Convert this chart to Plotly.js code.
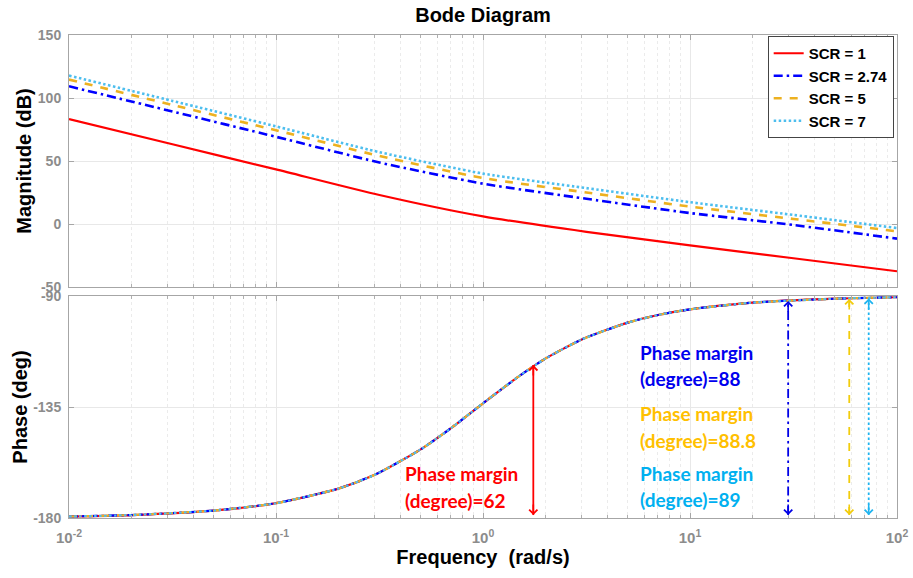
<!DOCTYPE html>
<html>
<head>
<meta charset="utf-8">
<script src="https://cdn.plot.ly/plotly-3.0.1.min.js"></script>
<style>
  html, body { margin: 0; padding: 0; background: #ffffff; }
  #chart { width: 913px; height: 578px; }
</style>
</head>
<body>
<div id="chart"></div>
<script>
// Open-loop magnitude (dB) for each short-circuit ratio
const magFreq = [0.01, 0.0316, 0.1, 0.316, 1, 3.16, 10, 31.6, 100];
const magScr1 = [83.3, 63.3, 43.3, 23.0, 6.0, -6.2, -17.0, -27.2, -37.5];
const magScr274 = [109.3, 89.3, 69.2, 48.8, 32.0, 20.0, 8.7, -0.8, -11.6];
const magScr5 = [114.6, 94.5, 74.4, 54.0, 36.5, 25.0, 13.8, 4.0, -5.8];
const magScr7 = [117.8, 97.7, 77.5, 57.0, 40.0, 28.5, 17.3, 7.2, -3.2];

// Phase (deg): identical for every SCR, since SCR only scales the gain
const phaseFreq = [0.01, 0.02, 0.05, 0.1, 0.2, 0.3, 0.5, 0.7, 1, 1.5, 2, 3, 5, 7, 10, 20, 50, 100];
const phaseDeg = [-179.4, -178.8, -177.0, -174.0, -168.1, -162.5, -152.2, -143.6, -133.5,
                  -122.4, -115.4, -107.6, -100.8, -97.7, -95.4, -92.7, -91.1, -90.5];

const seriesNames = ['SCR = 1', 'SCR = 2.74', 'SCR = 5', 'SCR = 7'];
const marginDeg = [62, 88, 88.8, 89];          // phase margin of each case
const crossFreq = [1.75, 29.8, 58.8, 73];      // gain crossover frequency (rad/s)

const xTickVals = [0.01, 0.1, 1, 10, 100];
const xTickText = ['10<sup>-2</sup>', '10<sup>-1</sup>', '10<sup>0</sup>', '10<sup>1</sup>', '10<sup>2</sup>'];
const magTicks = [-50, 0, 50, 100, 150];
const phaseTicks = [-180, -135, -90];

// minor log ticks at 2..9 within each decade
const xMinorVals = [];
for (let d = -2; d < 2; d++) {
  for (let k = 2; k <= 9; k++) xMinorVals.push(k * Math.pow(10, d));
}

const lineColors = ['#ff0000', '#0000ff', '#edb120', '#4dbeee'];
const lineDash = ['solid', '9px,4px,2.5px,4px', '8px,8px', '2.5px,2.5px'];
const arrowColors = ['#ff0000', '#0000e6', '#f2cc0c', '#1eb4f0'];
const textColors = ['#ff0000', '#0000ee', '#ffc000', '#00b0f0'];
const magSeries = [magScr1, magScr274, magScr5, magScr7];

const traces = [];
magSeries.forEach((m, i) => {
  traces.push({
    x: magFreq, y: m, xaxis: 'x2', yaxis: 'y2', type: 'scatter', mode: 'lines',
    name: seriesNames[i],
    line: { color: lineColors[i], width: i === 0 ? 2.2 : 2.6, dash: lineDash[i], shape: 'spline', smoothing: 0.6 }
  });
});
seriesNames.forEach((n, i) => {
  traces.push({
    x: phaseFreq, y: phaseDeg, xaxis: 'x', yaxis: 'y', type: 'scatter', mode: 'lines',
    name: n, showlegend: false,
    line: { color: lineColors[i], width: 2.2, dash: lineDash[i], shape: 'spline', smoothing: 0.6 }
  });
});

// Phase-margin markers: vertical line from -180 deg up to the phase at crossover
const arrowBottom = -178.8;
const annotations = [];
crossFreq.forEach((f, i) => {
  const top = -180 + marginDeg[i];
  traces.push({
    x: [f, f], y: [arrowBottom, top], xaxis: 'x', yaxis: 'y', type: 'scatter', mode: 'lines',
    showlegend: false, hoverinfo: 'skip',
    line: { color: arrowColors[i], width: 1.8, dash: i === 0 ? 'solid' : lineDash[i] }
  });
  [[top, 12], [arrowBottom, -12]].forEach(([y, ay]) => {
    annotations.push({
      x: Math.log10(f), y: y, xref: 'x', yref: 'y', text: '', showarrow: true,
      ax: 0, ay: ay, arrowhead: 4, arrowsize: 1.0, arrowwidth: 1.6,
      arrowcolor: arrowColors[i], standoff: 0, startstandoff: 0
    });
  });
});

// Phase-margin labels
const labelFont = (c) => ({ family: 'Lato, "Open Sans", sans-serif', size: 19, color: c, weight: 'bold' });
const labelPos = [
  { x: 403, y1: 473, y2: 500 },
  { x: 638, y1: 352, y2: 378 },
  { x: 638, y1: 413, y2: 440 },
  { x: 638, y1: 473, y2: 499 }
];
const plotL = 69, plotW = 828, plotB = 518, plotH = 483;
labelPos.forEach((p, i) => {
  [['Phase margin', p.y1], ['(degree)=' + marginDeg[i], p.y2]].forEach(([t, py]) => {
    annotations.push({
      text: t, showarrow: false, xref: 'paper', yref: 'paper',
      x: (p.x - plotL) / plotW, y: (plotB - py) / plotH,
      xanchor: 'left', yanchor: 'middle', font: labelFont(textColors[i])
    });
  });
});

const sansBold = '"Liberation Sans", Arial, sans-serif';
const tickFont = { family: sansBold, size: 14, color: '#8c8c8c', weight: 'bold' };
const axisTitleFont = { family: sansBold, size: 20, color: '#000000', weight: 'bold' };
const frame = {
  showline: true, linecolor: '#a6a6a6', linewidth: 1, mirror: 'ticks',
  ticks: 'inside', ticklen: 5, tickcolor: '#a6a6a6', tickwidth: 1,
  showgrid: true, gridcolor: '#e8e8e8', gridwidth: 1, zeroline: false, tickfont: tickFont
};
const logMinor = {
  tickmode: 'array', tickvals: xMinorVals,
  ticks: 'inside', ticklen: 3, tickcolor: '#b0b0b0',
  showgrid: true, gridcolor: '#ebebeb', griddash: 'dot', gridwidth: 1
};

const layout = {
  width: 913, height: 578,
  margin: { l: 69, r: 16, t: 35, b: 60 },
  paper_bgcolor: '#ffffff', plot_bgcolor: '#ffffff',
  title: {
    text: 'Bode Diagram', x: 0.5, xref: 'paper', y: 1 - 15 / 578, yref: 'container', yanchor: 'middle',
    font: { family: sansBold, size: 20, color: '#000000', weight: 'bold' }
  },
  showlegend: true,
  legend: {
    x: 0.996, xanchor: 'right', y: (518 - 36) / 483, yanchor: 'top',
    bgcolor: '#ffffff', bordercolor: '#444444', borderwidth: 1,
    font: { family: sansBold, size: 15, color: '#000000', weight: 'bold' },
    itemwidth: 30, tracegroupgap: 0
  },
  xaxis: Object.assign({}, frame, {
    type: 'log', range: [-2, 2], anchor: 'y', domain: [0, 1],
    tickvals: xTickVals, ticktext: xTickText, ticklabelstandoff: 6,
    tickfont: Object.assign({}, tickFont, { size: 15 }),
    minor: logMinor,
    title: { text: 'Frequency\u00a0 (rad/s)', font: axisTitleFont, standoff: 4 }
  }),
  yaxis: Object.assign({}, frame, {
    domain: [0, (518 - 296) / 483], range: [-180, -90], anchor: 'x',
    tickvals: phaseTicks, ticktext: phaseTicks.map(String), ticklabelstandoff: 4,
    title: { text: 'Phase (deg)', font: axisTitleFont, standoff: 0 }
  }),
  xaxis2: Object.assign({}, frame, {
    type: 'log', range: [-2, 2], anchor: 'y2', matches: 'x', domain: [0, 1],
    tickvals: xTickVals, showticklabels: false, minor: logMinor
  }),
  yaxis2: Object.assign({}, frame, {
    domain: [(518 - 287) / 483, 1], range: [-50, 150], anchor: 'x2',
    tickvals: magTicks, ticktext: magTicks.map(String), ticklabelstandoff: 4,
    title: { text: 'Magnitude (dB)', font: axisTitleFont, standoff: 0 }
  }),
  annotations: annotations
};

Plotly.newPlot('chart', traces, layout, { displayModeBar: false, staticPlot: true });
</script>
</body>
</html>
